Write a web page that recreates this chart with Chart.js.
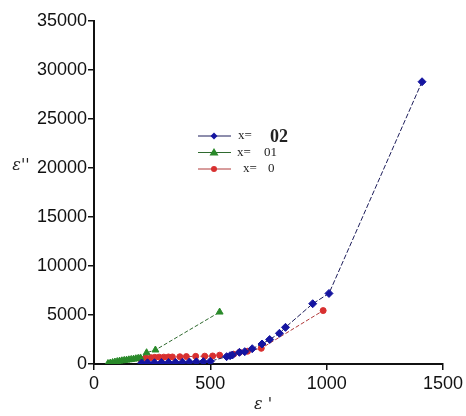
<!DOCTYPE html>
<html>
<head>
<meta charset="utf-8">
<script src="https://cdn.jsdelivr.net/npm/chart.js@4/dist/chart.umd.min.js"></script>
<style>
  html, body { margin: 0; padding: 0; background: #fff; }
  #wrap { width: 466px; height: 416px; position: relative; }
</style>
</head>
<body>
<div id="wrap"><canvas id="c"></canvas></div>
<script>
// ε'' proti ε' za tri sestave

const xTicks = [0, 500, 1000, 1500];
const yTicks = [0, 5000, 10000, 15000, 20000, 25000, 30000, 35000];

const seriesNames = ['x=', 'x=', 'x='];
const seriesTags = ['02', '01', '0'];

const epsReal02 = [205, 230, 260, 290, 320, 350, 380, 410, 440, 470, 500, 570, 585, 595, 625, 648, 680, 722, 755, 797, 823, 940, 1010, 1410];
const epsImag02 = [100, 120, 130, 150, 160, 170, 180, 200, 220, 240, 280, 750, 850, 920, 1190, 1260, 1560, 2040, 2500, 3130, 3740, 6150, 7200, 28800];

const epsReal01 = [60, 70, 80, 90, 100, 110, 120, 130, 140, 150, 160, 170, 180, 190, 200, 226, 264, 540];
const epsImag01 = [50, 100, 150, 200, 250, 300, 330, 370, 400, 430, 470, 500, 540, 580, 620, 1150, 1430, 5300];

const epsReal00 = [200, 223, 245, 261, 280, 300, 320, 337, 369, 397, 437, 476, 510, 540, 600, 626, 660, 719, 985];
const epsImag00 = [500, 600, 650, 680, 700, 700, 720, 720, 740, 760, 780, 800, 820, 900, 1000, 1200, 1300, 1600, 5450];

const toPoints = (xs, ys) => xs.map((x, i) => ({ x, y: ys[i] }));

const SERIF = '"Liberation Serif", "DejaVu Serif", serif';
const SANS = '"Liberation Sans", Arial, sans-serif';

// legenda znotraj risalne površine
const legendPlugin = {
  id: 'innerLegend',
  afterDraw(chart) {
    const { ctx } = chart;
    const x0 = 198, y0 = 136, gap = 16.5;
    const textX = [238, 237, 243];
    const tagX = [270, 264, 268];
    ctx.save();
    chart.data.datasets.forEach((ds, i) => {
      const y = y0 + i * gap;
      ctx.beginPath();
      ctx.lineWidth = 1;
      ctx.strokeStyle = ds.borderColor;
      ctx.moveTo(x0, y);
      ctx.lineTo(x0 + 33, y);
      ctx.stroke();
      ctx.fillStyle = ds.pointBackgroundColor;
      const cx = x0 + 16;
      ctx.beginPath();
      if (ds.pointStyle === 'triangle') {
        ctx.moveTo(cx, y - 4.5); ctx.lineTo(cx + 4.5, y + 3); ctx.lineTo(cx - 4.5, y + 3);
      } else if (ds.pointStyle === 'rectRot') {
        ctx.moveTo(cx, y - 3.5); ctx.lineTo(cx + 3.5, y); ctx.lineTo(cx, y + 3.5); ctx.lineTo(cx - 3.5, y);
      } else {
        ctx.arc(cx, y, 3, 0, Math.PI * 2);
      }
      ctx.closePath();
      ctx.fill();

      ctx.fillStyle = '#222';
      ctx.textBaseline = 'middle';
      ctx.font = '13px ' + SERIF;
      ctx.fillText(seriesNames[i], textX[i], y);
      ctx.font = i === 0 ? 'bold 18px ' + SERIF : '13px ' + SERIF;
      ctx.fillText(seriesTags[i], tagX[i], y + (i === 0 ? 1 : 0));
    });
    ctx.restore();
  },
};

// oznake osi
const axisTitlesPlugin = {
  id: 'axisTitles',
  afterDraw(chart) {
    const { ctx } = chart;
    ctx.save();
    ctx.fillStyle = '#222';
    ctx.font = 'italic 16px "DejaVu Serif", serif';
    ctx.textAlign = 'center';
    ctx.textBaseline = 'middle';
    ctx.fillText("ε''", 21, 166);
    ctx.fillText("ε '", 263, 405);
    ctx.restore();
  },
};

new Chart(document.getElementById('c'), {
  type: 'scatter',
  plugins: [legendPlugin, axisTitlesPlugin],
  data: {
    datasets: [
      {
        label: 'x= 02',
        data: toPoints(epsReal02, epsImag02),
        showLine: true,
        borderColor: '#1c1c5a',
        borderWidth: 1,
        borderDash: [5, 2],
        pointStyle: 'rectRot',
        pointRadius: 4,
        pointBackgroundColor: '#1515a0',
        pointBorderColor: '#1515a0',
      },
      {
        label: 'x= 01',
        data: toPoints(epsReal01, epsImag01),
        showLine: true,
        borderColor: '#2f6a2f',
        borderWidth: 1,
        borderDash: [4, 2],
        pointStyle: 'triangle',
        pointRadius: 4,
        pointBackgroundColor: '#2a8a2a',
        pointBorderColor: '#2a8a2a',
      },
      {
        label: 'x= 0',
        data: toPoints(epsReal00, epsImag00),
        showLine: true,
        borderColor: '#b03a3a',
        borderWidth: 1,
        borderDash: [4, 2],
        pointStyle: 'circle',
        pointRadius: 3,
        pointBackgroundColor: '#d83030',
        pointBorderColor: '#d83030',
      },
    ],
  },
  options: {
    responsive: true,
    maintainAspectRatio: false,
    animation: false,
    layout: { padding: { top: 21, right: 22, left: 0, bottom: 0 } },
    plugins: { legend: { display: false }, tooltip: { enabled: false } },
    scales: {
      x: {
        type: 'linear',
        min: 0,
        max: 1500,
        afterBuildTicks: (s) => { s.ticks = xTicks.map((v) => ({ value: v })); },
        afterFit: (s) => { s.height = 52; },
        border: { display: true, color: '#111', width: 2 },
        grid: { display: true, drawOnChartArea: false, drawTicks: true, tickLength: 6, color: '#111', lineWidth: 1.5 },
        ticks: { color: '#111', padding: 3, font: { family: SANS, size: 18 }, maxRotation: 0, callback: (v) => String(v) },
      },
      y: {
        type: 'linear',
        min: 0,
        max: 35000,
        afterBuildTicks: (s) => { s.ticks = yTicks.map((v) => ({ value: v })); },
        afterFit: (s) => { s.width = 94; },
        border: { display: true, color: '#111', width: 2 },
        grid: { display: true, drawOnChartArea: false, drawTicks: true, tickLength: 6, color: '#111', lineWidth: 1.5 },
        ticks: { color: '#111', padding: 1, font: { family: SANS, size: 18 }, callback: (v) => String(v) },
      },
    },
  },
});
</script>
</body>
</html>
